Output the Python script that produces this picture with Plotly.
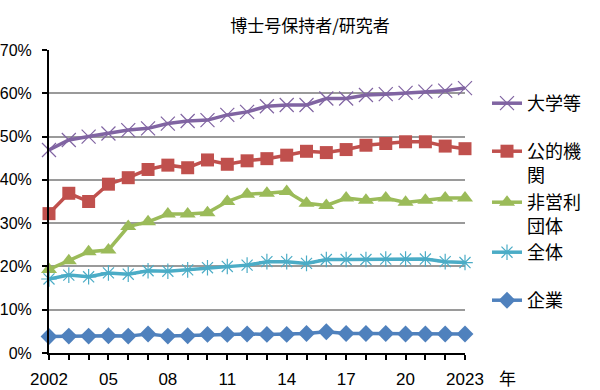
import plotly.graph_objects as go

years = list(range(2002, 2024))
tick_labels = ["2002", "", "", "05", "", "", "08", "", "", "11", "", "", "14", "", "", "17", "", "", "20", "", "", "2023"]

univ = [46.9, 49.2, 50.0, 50.7, 51.5, 51.9, 53.0, 53.6, 53.8, 55.0, 55.7, 57.0, 57.3, 57.3, 58.8, 58.8, 59.6, 59.8, 60.1, 60.4, 60.6, 61.2]
public = [32.2, 36.9, 35.0, 39.0, 40.5, 42.4, 43.4, 42.8, 44.6, 43.6, 44.4, 44.9, 45.7, 46.6, 46.3, 47.0, 48.0, 48.4, 48.8, 48.8, 47.8, 47.2]
nonprofit = [19.3, 21.3, 23.4, 23.8, 29.2, 30.3, 32.1, 32.1, 32.4, 35.0, 36.7, 36.9, 37.3, 34.6, 34.1, 35.8, 35.3, 35.8, 34.8, 35.3, 35.8, 35.8]
overall = [17.1, 18.0, 17.6, 18.5, 18.2, 19.0, 18.9, 19.2, 19.7, 20.0, 20.3, 21.1, 21.1, 20.7, 21.6, 21.6, 21.6, 21.7, 21.7, 21.7, 21.1, 20.9]
company = [3.8, 3.9, 3.9, 4.0, 3.9, 4.4, 3.9, 4.0, 4.3, 4.3, 4.4, 4.3, 4.3, 4.5, 4.9, 4.5, 4.5, 4.5, 4.4, 4.4, 4.4, 4.4]

names = ["大学等", "公的機<br>関", "非営利<br>団体", "全体", "企業"]
colors = ["#8064A2", "#C0504D", "#9BBB59", "#4BACC6", "#4F81BD"]
symbols = ["x-thin-open", "square", "triangle-up", "asterisk-open", "diamond"]
marker_sizes = [14, 13, 14, 13, 13]
series = [univ, public, nonprofit, overall, company]
legend_ids = ["legend", "legend2", "legend3", "legend4", "legend5"]
legend_y_px = [101, 149, 200, 250, 298]

L, R, T, B = 49, 135, 50, 37
W, H = 600, 390
plot_h = H - T - B
plot_w = W - L - R

fig = go.Figure()
for name, col, sym, ms, vals, lid in zip(names, colors, symbols, marker_sizes, series, legend_ids):
    open_sym = sym.endswith("open")
    fig.add_trace(go.Scatter(
        x=years, y=vals, name=name, mode="lines+markers",
        line=dict(color=col, width=3.5),
        marker=dict(symbol=sym, size=ms, color=col,
                    line=dict(color=col, width=1.2 if open_sym else 0)),
        cliponaxis=False, legend=lid,
    ))

layout_legends = {}
for lid, ypx in zip(legend_ids, legend_y_px):
    layout_legends[lid] = dict(
        x=(487 - L) / plot_w, xanchor="left",
        y=(H - B - ypx + 16) / plot_h, yanchor="top",
        font=dict(size=18, family="Noto Sans CJK JP", color="black"),
        bgcolor="rgba(0,0,0,0)", valign="top", itemwidth=30,
    )

fig.update_layout(
    width=W, height=H,
    margin=dict(l=L, r=R, t=T, b=B, autoexpand=False),
    paper_bgcolor="white", plot_bgcolor="white",
    font=dict(family="Liberation Sans, Arial, Noto Sans CJK JP", color="black"),
    title=dict(text="博士号保持者/研究者", x=310 / W, xanchor="center", y=1 - 26 / H, yanchor="middle",
               font=dict(size=17, family="Noto Sans CJK JP", color="black")),
    showlegend=True,
    **layout_legends,
)

fig.update_xaxes(
    range=[2002, 2023], tickvals=years, ticktext=tick_labels, automargin=False,
    showline=True, linecolor="black", linewidth=2,
    ticks="outside", ticklen=5, tickwidth=1.5, tickcolor="black",
    showgrid=False, zeroline=False,
    tickfont=dict(size=17, family="Liberation Sans, Arial"),
    ticklabelstandoff=5,
)
fig.update_yaxes(
    range=[0, 70], dtick=10, ticksuffix="%", automargin=False,
    showline=True, linecolor="black", linewidth=2,
    ticks="outside", ticklen=5, tickwidth=1.5, tickcolor="black",
    showgrid=True, gridcolor="#9a9a9a", gridwidth=1.5, zeroline=False,
    tickfont=dict(size=16, family="Liberation Sans, Arial"),
    ticklabelstandoff=7,
)

fig.add_annotation(text="年", xref="paper", yref="paper", x=(507 - L) / plot_w, y=-(377 - (H - B)) / plot_h,
                   xanchor="center", yanchor="middle",
                   showarrow=False, font=dict(size=17, family="Noto Sans CJK JP", color="black"))

fig.write_html("out.html", config={"displayModeBar": False},
               post_script="document.body.style.margin='0';")
